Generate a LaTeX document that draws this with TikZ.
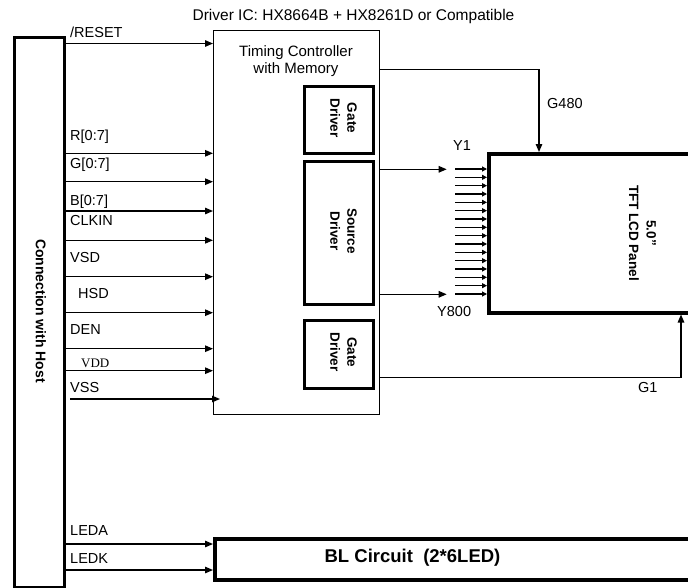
\documentclass[tikz,border=0pt]{standalone}
\usepackage{fontspec}
\setmainfont{Liberation Sans}
\newfontfamily\serifvdd{Liberation Serif}
\usetikzlibrary{arrows.meta}
\begin{document}
\begin{tikzpicture}[x=1pt,y=-1pt,
  wire/.style={line width=1.3pt},
  arr/.style={line width=1.3pt,-{Triangle[length=8pt,width=6.5pt]}},
  sarr/.style={line width=1.1pt,-{Triangle[length=5pt,width=5pt]}},
  thickbox/.style={draw,line width=3pt,inner sep=0pt,anchor=north west},
  thinbox/.style={draw,line width=1.3pt,inner sep=0pt,anchor=north west},
  lbl/.style={font=\fontsize{14.5}{16}\selectfont,anchor=base west,inner sep=0pt},
  vtext/.style={font=\bfseries\fontsize{13.5}{17}\selectfont,rotate=-90,align=center,inner sep=0pt}]
\useasboundingbox (0,0) rectangle (688,587);

% title
\node[font=\fontsize{15.5}{17}\selectfont,anchor=base,inner sep=0pt] (title) at (353.5,20.7) {Driver IC: HX8664B + HX8261D or Compatible};

% host
\node[thickbox,minimum width=50pt,minimum height=550pt] (host) at (13,36) {};
\node[vtext,font=\bfseries\fontsize{14}{16}\selectfont] (hostlbl) at (41,311) {Connection with Host};

% timing controller
\node[thinbox,minimum width=166pt,minimum height=384pt] (tc) at (213,30) {};
\node[font=\fontsize{15}{17}\selectfont,anchor=base,inner sep=0pt] (tc1) at (296,56.7) {Timing Controller};
\node[font=\fontsize{15}{17}\selectfont,anchor=base,inner sep=0pt] (tc2) at (296,73.3) {with Memory};

% drivers
\node[thickbox,minimum width=69pt,minimum height=67pt] (gd1) at (303,85) {};
\node[vtext] (gd1l) at (343.5,118) {Gate\\Driver};
\node[thickbox,minimum width=69pt,minimum height=143pt] (sd) at (303,160) {};
\node[vtext] (sdl) at (343.5,231) {Source\\Driver};
\node[thickbox,minimum width=69pt,minimum height=68pt] (gd2) at (303,319) {};
\node[vtext] (gd2l) at (343.5,352) {Gate\\Driver};

% panel
\node[thickbox,line width=3.5pt,minimum width=215pt,minimum height=159pt] (panel) at (487,152) {};
\node[vtext,font=\bfseries\fontsize{13.5}{17.5}\selectfont] (panell) at (642.5,233) {5.0''\\TFT LCD Panel};

% backlight
\node[thickbox,line width=3.5pt,minimum width=490pt,minimum height=41pt] (bl) at (213,537) {};
\node[font=\bfseries\fontsize{18.5}{20}\selectfont,inner sep=0pt] (bll) at (412.5,557.5) {BL Circuit\ \ (2*6LED)};

% host inputs
\draw[arr] (host.east |- 0,43.5) -- (tc.west |- 0,43.5);
\draw[arr] (host.east |- 0,153.3) -- (tc.west |- 0,153.3);
\draw[arr] (host.east |- 0,181.7) -- (tc.west |- 0,181.7);
\draw[arr] (host.east |- 0,211) -- (tc.west |- 0,211);
\draw[arr] (host.east |- 0,240.3) -- (tc.west |- 0,240.3);
\draw[arr] (host.east |- 0,276.7) -- (tc.west |- 0,276.7);
\draw[arr] (host.east |- 0,312.7) -- (tc.west |- 0,312.7);
\draw[arr] (host.east |- 0,348.7) -- (tc.west |- 0,348.7);
\draw[arr] (host.east |- 0,370.7) -- (tc.west |- 0,370.7);
\coordinate (vssS) at (70,399);
\draw[arr] (vssS) -- ([xshift=7pt]tc.west |- vssS);
\draw[arr] (host.east |- 0,544) -- (bl.west |- 0,544);
\draw[arr] (host.east |- 0,570) -- (bl.west |- 0,570);

\node[lbl] (lreset) at (70,37.7) {/RESET};
\node[lbl] (lr) at (70,140) {R[0:7]};
\node[lbl] (lg) at (70,168) {G[0:7]};
\node[lbl] (lb) at (70,205) {B[0:7]};
\node[lbl] (lclk) at (70,225.7) {CLKIN};
\node[lbl] (lvsd) at (70,262.3) {VSD};
\node[lbl] (lhsd) at (78,298.3) {HSD};
\node[lbl] (lden) at (70,334.3) {DEN};
\node[lbl,font=\serifvdd\fontsize{13}{15}\selectfont] (lvdd) at (81,367.3) {VDD};
\node[lbl] (lvss) at (70,392) {VSS};
\node[lbl] (lleda) at (70,535) {LEDA};
\node[lbl] (lledk) at (70,563.3) {LEDK};

% outputs
\draw[arr] (tc.east |- 0,69.3) -| (panel.north west -| 539,0);
\draw[arr] (tc.east |- 0,377.7) -| (panel.south west -| 681,0);
\coordinate (y1e) at (446.7,169.3);
\coordinate (y800e) at (446.7,294.3);
\draw[arr] (tc.east |- y1e) -- (y1e);
\draw[arr] (tc.east |- y800e) -- (y800e);
\foreach \i [evaluate=\i as \yy using 169+\i*8.333] in {0,...,15}
  \draw[sarr] ([xshift=-32pt]panel.west |- 0,\yy) -- (panel.west |- 0,\yy);

\node[lbl] (lg480) at (547,108) {G480};
\node[lbl] (ly1) at (453,150) {Y1};
\node[lbl] (ly800) at (437,316.7) {Y800};
\node[lbl] (lg1) at (638,392) {G1};
\end{tikzpicture}
\end{document}
